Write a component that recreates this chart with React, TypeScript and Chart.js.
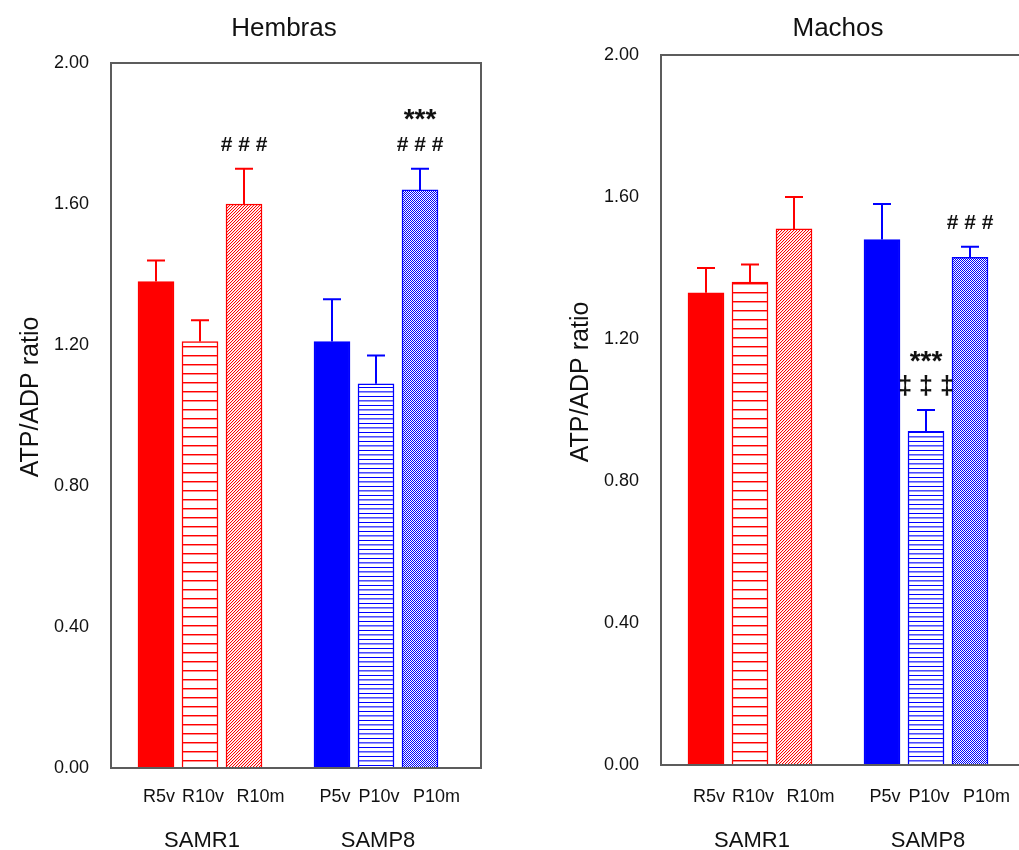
import React, { useEffect, useRef } from 'react';
import { Chart, registerables } from 'chart.js';

Chart.register(...registerables);

// ---------- data ----------
const barLabels = ['R5v', 'R10v', 'R10m', 'P5v', 'P10v', 'P10m'];
const barPositions = [1, 2, 3, 5, 6, 7];
const groupLabels = ['SAMR1', 'SAMP8'];
const groupPositions = [2, 6];
const yTickValues = [0, 0.4, 0.8, 1.2, 1.6, 2.0];

const hembrasMeans = [1.38, 1.21, 1.6, 1.21, 1.09, 1.64];
const hembrasErrors = [0.06, 0.06, 0.1, 0.12, 0.08, 0.06];
const hembrasMarks = [[], [], ['# # #'], [], [], ['# # #', '***']];

const machosMeans = [1.33, 1.36, 1.51, 1.48, 0.94, 1.43];
const machosErrors = [0.07, 0.05, 0.09, 0.1, 0.06, 0.03];
const machosMarks = [[], [], [], [], ['‡ ‡ ‡', '***'], ['# # #']];

const barColors = ['#ff0000', '#ff0000', '#ff0000', '#0000ff', '#0000ff', '#0000ff'];
const barFills = ['solid', 'hlines', 'diag', 'solid', 'hlinesDense', 'checker'];

const FONT = '"Liberation Sans", Arial, Helvetica, sans-serif';
const M_LABEL_LEAD = '\u2002\u2002\u2002';

function makeFill(kind: string, color: string): any {
  if (kind === 'solid') return color;
  const c = document.createElement('canvas');
  const g = c.getContext('2d')!;
  if (kind === 'hlines') {
    c.width = 4; c.height = 9;
    g.fillStyle = '#ffffff'; g.fillRect(0, 0, 4, 9);
    g.fillStyle = color; g.fillRect(0, 4, 4, 1);
    g.globalAlpha = 0.45; g.fillRect(0, 5, 4, 1);
  } else if (kind === 'hlinesDense') {
    c.width = 4; c.height = 9;
    g.fillStyle = '#ffffff'; g.fillRect(0, 0, 4, 9);
    g.fillStyle = color; g.fillRect(0, 0, 4, 1);
    g.globalAlpha = 0.7; g.fillRect(0, 4, 4, 1);
    g.globalAlpha = 0.4; g.fillRect(0, 5, 4, 1);
  } else if (kind === 'diag') {
    c.width = 3; c.height = 3;
    g.fillStyle = '#ffffff'; g.fillRect(0, 0, 3, 3);
    g.fillStyle = color;
    for (let i = 0; i < 3; i++) g.fillRect(i, 2 - i, 1, 1);
    g.globalAlpha = 0.15;
    for (let i = 0; i < 3; i++) g.fillRect((i + 1) % 3, 2 - i, 1, 1);
  } else if (kind === 'checker') {
    c.width = 2; c.height = 2;
    g.fillStyle = '#ffffff'; g.fillRect(0, 0, 2, 2);
    g.fillStyle = color;
    g.fillRect(0, 0, 1, 1); g.fillRect(1, 1, 1, 1);
  }
  return g.createPattern(c, 'repeat');
}

function drawCentered(ctx: CanvasRenderingContext2D, text: string, x: number, y: number) {
  const m = ctx.measureText(text);
  ctx.textAlign = 'center';
  ctx.textBaseline = 'alphabetic';
  ctx.fillText(text, x, y + (m.actualBoundingBoxAscent - m.actualBoundingBoxDescent) / 2);
}

const decorPlugin = {
  id: 'panelDecor',
  afterDraw(chart: any, _args: any, opts: any) {
    const { ctx, chartArea } = chart;
    const xs = chart.scales.x;
    const ys = chart.scales.y;
    ctx.save();
    // error bars
    ctx.lineWidth = 2;
    opts.means.forEach((m: number, i: number) => {
      const x = Math.round(xs.getPixelForValue(barPositions[i]));
      const yBar = ys.getPixelForValue(m);
      const yTop = ys.getPixelForValue(m + opts.errors[i]);
      ctx.strokeStyle = barColors[i];
      ctx.beginPath();
      ctx.moveTo(x, yBar);
      ctx.lineTo(x, yTop);
      ctx.moveTo(x - 9, yTop);
      ctx.lineTo(x + 9, yTop);
      ctx.stroke();
      // significance marks
      ctx.fillStyle = '#111111';
      (opts.marks[i] as string[]).forEach((t: string, k: number) => {
        if (t.includes('*')) ctx.font = `bold 28px ${FONT}`;
        else if (t.includes('‡')) ctx.font = `bold 25px ${FONT}`;
        else ctx.font = `bold 21px ${FONT}`;
        drawCentered(ctx, t, x, yTop - 25 - k * 29);
      });
    });
    // frame
    ctx.strokeStyle = '#5c5c5c';
    ctx.lineWidth = 2;
    ctx.strokeRect(chartArea.left, chartArea.top, chartArea.right - chartArea.left, chartArea.bottom - chartArea.top);
    // title
    ctx.fillStyle = '#111111';
    ctx.font = `26px ${FONT}`;
    drawCentered(ctx, opts.title, opts.titleX, 26);
    // group labels
    ctx.font = `22px ${FONT}`;
    groupLabels.forEach((g, i) => {
      drawCentered(ctx, g, xs.getPixelForValue(groupPositions[i]) + 2, 839);
    });
    // y-axis title
    ctx.save();
    ctx.translate(28, opts.yTitleY);
    ctx.rotate(-Math.PI / 2);
    ctx.font = `25px ${FONT}`;
    drawCentered(ctx, 'ATP/ADP ratio', 0, 0);
    ctx.restore();
    ctx.restore();
  },
};

function makeConfig(p: any): any {
  const fills = barFills.map((k, i) => makeFill(k, barColors[i]));
  return {
    type: 'bar',
    data: {
      datasets: [
        {
          data: barPositions.map((x, i) => ({ x, y: p.means[i] })),
          backgroundColor: fills,
          borderColor: barColors,
          borderWidth: 1.5,
          borderSkipped: 'bottom',
          barThickness: 36,
        },
      ],
    },
    options: {
      animation: false,
      responsive: false,
      layout: { padding: { left: 0, right: 69, top: p.top, bottom: 0 } },
      plugins: {
        legend: { display: false },
        tooltip: { enabled: false },
        title: { display: false },
        panelDecor: {
          means: p.means,
          errors: p.errors,
          marks: p.marks,
          title: p.title,
          titleX: p.titleX,
          yTitleY: p.yTitleY,
        },
      },
      scales: {
        x: {
          type: 'linear',
          offset: false,
          min: 1 - 45 / 44,
          max: 1 - 45 / 44 + 370 / 44,
          grid: { display: false, drawTicks: false, offset: false },
          border: { display: false },
          afterBuildTicks: (s: any) => {
            s.ticks = barPositions.map((v) => ({ value: v }));
          },
          afterFit: (s: any) => {
            s.height = p.xAxisHeight;
          },
          ticks: {
            autoSkip: false,
            maxRotation: 0,
            padding: p.xTickPad,
            labelOffset: 3,
            color: '#111111',
            font: { family: FONT, size: 18 },
            callback: (v: any) => {
              const idx = barPositions.indexOf(Number(v));
              if (idx < 0) return '';
              const l = barLabels[idx];
              return l.endsWith('m') ? M_LABEL_LEAD + l : l;
            },
          },
        },
        y: {
          type: 'linear',
          min: 0,
          max: 2,
          grid: { display: false, drawTicks: false },
          border: { display: false },
          afterBuildTicks: (s: any) => {
            s.ticks = yTickValues.map((v) => ({ value: v }));
          },
          afterFit: (s: any) => {
            s.width = 111;
          },
          ticks: {
            padding: 22,
            color: '#111111',
            font: { family: FONT, size: 18 },
            callback: (v: any) => Number(v).toFixed(2),
          },
        },
      },
    },
    plugins: [decorPlugin],
  };
}

function Panel(props: any) {
  const ref = useRef<HTMLCanvasElement>(null);
  useEffect(() => {
    if (!ref.current) return;
    const chart = new Chart(ref.current, makeConfig(props.cfg));
    return () => chart.destroy();
  }, []);
  return (
    <canvas
      ref={ref}
      width={550}
      height={850}
      style={{ position: 'absolute', left: props.left, top: 0, width: 550, height: 850 }}
    />
  );
}

export default function App() {
  return (
    <div
      style={{
        position: 'fixed',
        left: 0,
        top: 0,
        width: 1019,
        height: 850,
        overflow: 'hidden',
        background: '#ffffff',
      }}
    >
      <Panel
        left={0}
        cfg={{
          means: hembrasMeans,
          errors: hembrasErrors,
          marks: hembrasMarks,
          title: 'Hembras',
          titleX: 284,
          yTitleY: 397,
          top: 63,
          xAxisHeight: 82,
          xTickPad: 18,
        }}
      />
      <Panel
        left={550}
        cfg={{
          means: machosMeans,
          errors: machosErrors,
          marks: machosMarks,
          title: 'Machos',
          titleX: 288,
          yTitleY: 382,
          top: 55,
          xAxisHeight: 85,
          xTickPad: 21,
        }}
      />
    </div>
  );
}
